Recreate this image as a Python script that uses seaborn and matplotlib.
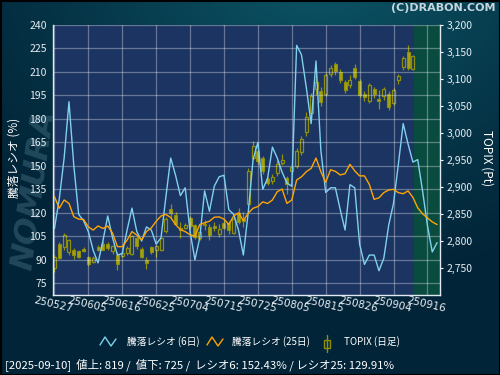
import numpy as np
import pandas as pd
import matplotlib
matplotlib.use("Agg")
import matplotlib.pyplot as plt
import seaborn as sns
from matplotlib.lines import Line2D
from matplotlib.patches import Rectangle

# ---------------- data ----------------
tick_labels = ["250527", "250605", "250616", "250625", "250704", "250715",
               "250725", "250805", "250815", "250826", "250904", "250916"]

ratio6 = [110, 129, 155, 191, 150, 119, 115, 108, 96, 88,
          102, 118, 104, 93, 94, 109, 123, 108, 102, 111,
          109, 100, 104, 130, 155, 144, 131, 136, 108, 90,
          104, 134, 121, 137, 143, 144, 122, 119, 109, 93,
          120, 154, 165, 135, 142, 162, 155, 146, 139, 137,
          227, 221, 200, 177, 217, 160, 133, 136, 136, 122,
          109, 138, 136, 100, 87, 93, 93, 83, 91, 112,
          126, 151, 177, 164, 152.43, 154, 134, 112, 95, 101]

ratio25 = [130.3, 122.9, 128.2, 126, 117.5, 116, 115.8, 111, 109, 111.6,
           110, 111.6, 107, 98.4, 98.4, 102.6, 108, 105.8, 102.6, 108,
           110.4, 114.6, 118, 119, 117, 112.5, 109.3, 108, 106, 105,
           112.5, 113.6, 114.6, 117.2, 117.4, 116, 112.5, 118, 120, 115,
           119.7, 122.9, 124, 127, 126, 128.2, 133.5, 135.2, 126, 128.2,
           141, 143, 146.3, 148.4, 155, 146.3, 139.5, 147.5, 146.5, 144.2,
           145, 151, 146.8, 143.6, 143.6, 138.2, 128.6, 129.6, 132.9, 134.6,
           135, 132.9, 132.2, 134, 129.91, 123.2, 119.4, 116.8, 114.2, 112.5]

t_open = [2750, 2794, 2788, 2779, 2784, 2781, 2785, 2770, 2762, 2789,
          2795, 2794, 2781, 2774, 2773, 2777, 2776, 2806, 2786, 2764,
          2788, 2783, 2784, 2818, 2859, 2849, 2821, 2825, 2842, 2829,
          2806, 2832, 2825, 2828, 2813, 2833, 2833, 2815, 2851, 2840,
          2868, 2954, 2967, 2954, 2914, 2911, 2926, 2945, 2916, 2930,
          2939, 2964, 3001, 3037, 3082, 3078, 3073, 3109, 3128, 3113,
          3094, 3088, 3120, 3096, 3073, 3059, 3082, 3063, 3068, 3072,
          3056, 3099, 3122, 3150, 3119]
t_high = [2775, 2798, 2814, 2803, 2787, 2784, 2788, 2772, 2772, 2793,
          2800, 2799, 2793, 2780, 2781, 2790, 2812, 2810, 2789, 2770,
          2791, 2793, 2806, 2845, 2868, 2853, 2836, 2833, 2846, 2832,
          2820, 2838, 2831, 2835, 2831, 2840, 2837, 2844, 2861, 2853,
          2936, 2985, 2982, 2958, 2918, 2925, 2950, 2962, 2921, 2945,
          2972, 2995, 3038, 3075, 3108, 3085, 3112, 3126, 3132, 3118,
          3098, 3108, 3128, 3100, 3078, 3092, 3086, 3080, 3085, 3078,
          3084, 3110, 3143, 3163, 3145]
t_low = [2743, 2766, 2784, 2774, 2766, 2768, 2779, 2754, 2760, 2781,
         2783, 2784, 2776, 2746, 2770, 2775, 2774, 2785, 2768, 2748,
         2776, 2770, 2781, 2815, 2840, 2830, 2806, 2822, 2823, 2804,
         2801, 2820, 2802, 2818, 2807, 2822, 2813, 2813, 2832, 2826,
         2866, 2950, 2942, 2925, 2903, 2906, 2920, 2940, 2887, 2925,
         2935, 2960, 2995, 3030, 3070, 3050, 3068, 3104, 3108, 3092,
         3074, 3083, 3100, 3066, 3060, 3055, 3065, 3045, 3062, 3042,
         3052, 3090, 3117, 3117, 3116]
t_close = [2771, 2769, 2812, 2801, 2775, 2770, 2781, 2757, 2769, 2784,
           2784, 2787, 2791, 2757, 2778, 2787, 2810, 2790, 2771, 2760,
           2779, 2791, 2805, 2840, 2851, 2832, 2824, 2829, 2827, 2808,
           2817, 2829, 2811, 2824, 2823, 2825, 2820, 2841, 2835, 2837,
           2930, 2976, 2949, 2930, 2908, 2919, 2943, 2950, 2905, 2937,
           2967, 2988, 3030, 3068, 3094, 3057, 3107, 3120, 3115, 3098,
           3080, 3099, 3104, 3070, 3067, 3088, 3072, 3060, 3081, 3048,
           3080, 3105, 3138, 3121, 3142]

status_text = "[2025-09-10]  値上: 819 /  値下: 725 /  レシオ6: 152.43% / レシオ25: 129.91%"

# ---------------- style ----------------
sns.set_style("dark")
plt.rcParams["font.family"] = ["Noto Sans CJK JP", "DejaVu Sans"]

W, H = 500, 375
fig = plt.figure(figsize=(5, 3.75), dpi=100)

# background gradient
bg = fig.add_axes([0, 0, 1, 1], zorder=-10)
yy, xx = np.mgrid[0:H, 0:W]
d = np.sqrt(((xx - 320) / 1.0) ** 2 + ((yy + 40) * 1.3) ** 2)
t = np.clip(1 - d / 430, 0, 1) ** 1.2
dark = np.array([2, 36, 56]) / 255
light = np.array([12, 88, 104]) / 255
img = dark[None, None, :] + t[..., None] * (light - dark)[None, None, :]
bg.imshow(img, extent=[0, W, H, 0], aspect="auto")
bg.set_xlim(0, W); bg.set_ylim(H, 0)
bg.axis("off")

# watermark on left
bg.text(34, 190, "NOMURA", rotation=82, fontsize=23, fontweight="bold",
        style="italic", color="#3f6a7c", alpha=0.5, ha="center", va="center",
        family="DejaVu Sans")
# border
bg.add_patch(Rectangle((0.5, 0.5), W - 1, H - 1, fill=False, edgecolor="black", lw=1.5))

pos = [53 / W, 1 - 295 / H, (440 - 53) / W, (295 - 25) / H]
ax2 = fig.add_axes(pos)                 # TOPIX (right axis)
ax = fig.add_axes(pos, sharex=ax2)      # ratio (left axis)
ax.set_zorder(ax2.get_zorder() + 1)
ax.patch.set_visible(False)

xmin, xmax = -0.3, 79.6
ax2.set_facecolor("#1b3462")
ax2.axvspan(74.25, xmax, color="#0a4b3f", lw=0)

# candles
olive_face = "#a3a314"
olive_edge = "#8f8f0a"
idx_c = np.arange(len(t_open))
o = np.array(t_open); c = np.array(t_close); hi = np.array(t_high); lo = np.array(t_low)
top = np.maximum(o, c); bot = np.minimum(o, c)
up = c >= o
ax2.vlines(idx_c, top, hi, color=olive_edge, lw=0.9)
ax2.vlines(idx_c, lo, bot, color=olive_edge, lw=0.9)
ax2.bar(idx_c[~up], (top - bot)[~up], bottom=bot[~up], width=0.62,
        color=olive_face, edgecolor=olive_edge, lw=0.8)
ax2.bar(idx_c[up], np.maximum((top - bot)[up], 0.8), bottom=bot[up], width=0.62,
        color="none", edgecolor=olive_edge, lw=0.9)

ax2.set_ylim(2700, 3200)
ax2.yaxis.tick_right()
ax2.set_yticks(range(2750, 3201, 50))
ax2.set_yticklabels([f"{v:,}" for v in range(2750, 3201, 50)])
ax2.tick_params(axis="y", colors="white", labelcolor="#e8eef4", labelsize=7.5,
                direction="inout", length=5, width=0.8, pad=2)

# ratio lines via seaborn
idx_l = np.arange(len(ratio6))
df = pd.DataFrame({"idx": idx_l, "r6": ratio6, "r25": ratio25})
sns.lineplot(data=df, x="idx", y="r6", ax=ax, color="#80d0f0", lw=1.0)
sns.lineplot(data=df, x="idx", y="r25", ax=ax, color="#ffa500", lw=1.0)

ax.set_ylim(67.5, 240)
ax.set_xlim(xmin, xmax)
ax.set_yticks(range(75, 241, 15))
ax.set_xticks(range(0, 78, 7))
ax.set_xticklabels(tick_labels, rotation=-13, rotation_mode="anchor",
                   ha="center", va="top")
ax.tick_params(axis="y", colors="white", labelcolor="#e8eef4", labelsize=7.5,
               direction="inout", length=5, width=0.8, pad=2)
ax.tick_params(axis="x", colors="white", labelcolor="#e8eef4", labelsize=7.5,
               direction="inout", length=4, width=0.8, pad=1)
for lab in ax.get_xticklabels():
    lab.set_family("DejaVu Sans")
ax.grid(True, color="white", alpha=0.33, lw=0.9)
ax.set_axisbelow(True)
ax.set_xlabel(""); ax.set_ylabel("")
ax2.set_xlabel(""); ax2.set_ylabel("")
ax2.tick_params(axis="x", bottom=False, labelbottom=False)
ax2.grid(False)

for a in (ax, ax2):
    for s in a.spines.values():
        s.set_visible(False)
for s in ("left", "bottom", "right"):
    ax.spines[s].set_visible(True)
    ax.spines[s].set_color("#e0e8f0")
    ax.spines[s].set_linewidth(1.0)

# axis titles
fig.text(14 / W, 1 - 158 / H, "騰落レシオ (%)", rotation=90, color="white",
         fontsize=8.5, ha="center", va="center")
fig.text(487 / W, 1 - 158 / H, "TOPIX (Pt)", rotation=-90, color="white",
         fontsize=8.5, ha="center", va="center")
fig.text(495 / W, 1 - 8 / H, "(C)DRABON.COM", color="#c6d6de", fontsize=8,
         fontweight="bold", ha="right", va="center", family="DejaVu Sans")

# legend (manual)
def fx(px): return px / W
def fy(py): return 1 - py / H
ly = fy(342)
fig.add_artist(Line2D([fx(100), fx(105), fx(111), fx(116)],
                      [fy(345), fy(337), fy(346), fy(339)], color="#80d0f0", lw=1))
fig.text(fx(127), ly, "騰落レシオ (6日)", color="white", fontsize=7, va="center")
fig.add_artist(Line2D([fx(207), fx(212), fx(218), fx(223)],
                      [fy(345), fy(337), fy(346), fy(339)], color="#ffa500", lw=1))
fig.text(fx(232), ly, "騰落レシオ (25日)", color="white", fontsize=7, va="center")
fig.add_artist(Line2D([fx(327), fx(327)], [fy(335), fy(352)], color=olive_edge, lw=1))
fig.add_artist(Rectangle((fx(324), fy(348)), 6 / W, 8 / H, facecolor="#0a2a3c",
                         edgecolor=olive_edge, lw=1, transform=fig.transFigure))
fig.text(fx(344), ly, "TOPIX (日足)", color="white", fontsize=7, va="center")

fig.text(fx(5), fy(365), status_text, color="white", fontsize=8.2, va="center")

fig.savefig("out.png", dpi=100, facecolor=fig.get_facecolor())
